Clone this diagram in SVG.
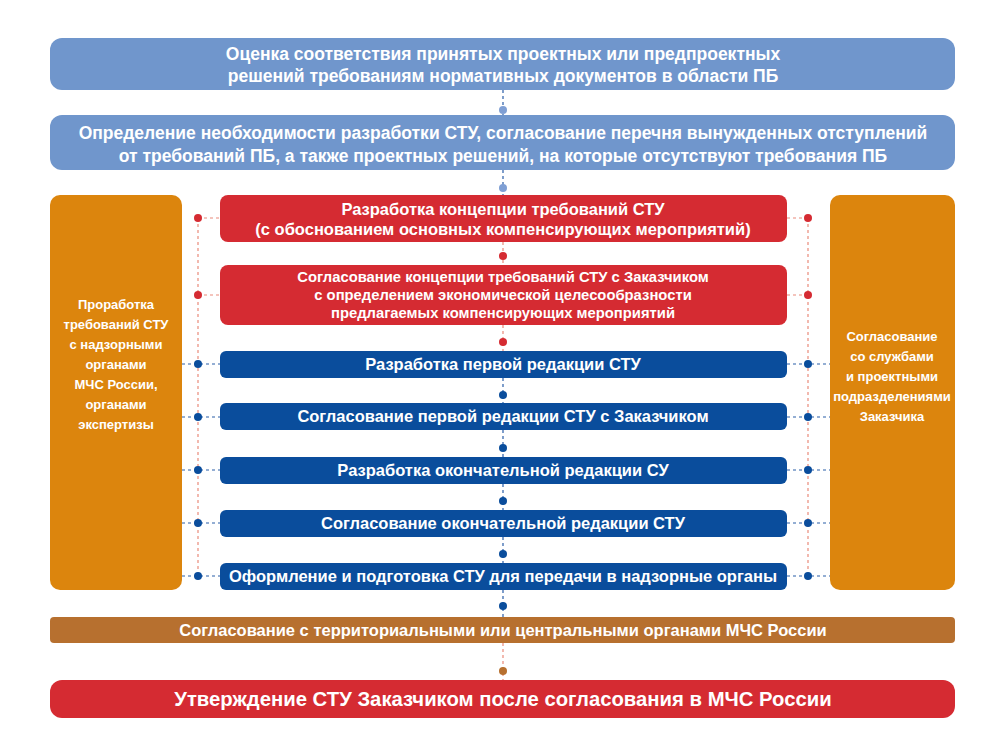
<svg xmlns="http://www.w3.org/2000/svg" width="1000" height="752" viewBox="0 0 1000 752">
<style>
text{font-family:"Liberation Sans",Arial,sans-serif;font-weight:bold;fill:#fff;text-anchor:middle}
.lb{fill:#7096cc}.rd{fill:#d52b32}.bl{fill:#0a4d9c}.or{fill:#dc850d}.br{fill:#b7702f}
.dl{stroke:#e98a7a;stroke-width:1.2;stroke-dasharray:3 3;fill:none}
.db{stroke:#2a5ea8;stroke-width:1.2;stroke-dasharray:3 3;fill:none}
</style>
<rect width="1000" height="752" fill="#fff"/>
<g id="connectors">
<path class="dl" d="M198 218V580M808 218V580"/>
<path class="dl" d="M198 218H220M198 295H220M787 218H808M787 295H808"/>
<path class="db" d="M182 364H220M182 417H220M182 470H220M182 523H220M182 576H220M787 364H830M787 417H830M787 470H830M787 523H830M787 576H830"/>
<path class="db" d="M503 90V115M503 170V195M503 378V403M503 430V457M503 484V510M503 537V563M503 590V617"/>
<path class="dl" d="M503 242V265M503 325V351M503 643V680"/>
<g fill="#d52b32"><circle cx="198" cy="218" r="4"/><circle cx="198" cy="295" r="4"/><circle cx="808" cy="218" r="4"/><circle cx="808" cy="295" r="4"/><circle cx="503" cy="256" r="4"/><circle cx="503" cy="342" r="4"/></g>
<g fill="#0a4d9c"><circle cx="198" cy="364" r="4"/><circle cx="198" cy="417" r="4"/><circle cx="198" cy="470" r="4"/><circle cx="198" cy="523" r="4"/><circle cx="198" cy="576" r="4"/><circle cx="808" cy="364" r="4"/><circle cx="808" cy="417" r="4"/><circle cx="808" cy="470" r="4"/><circle cx="808" cy="523" r="4"/><circle cx="808" cy="576" r="4"/><circle cx="503" cy="395" r="4"/><circle cx="503" cy="448" r="4"/><circle cx="503" cy="501" r="4"/><circle cx="503" cy="554" r="4"/><circle cx="503" cy="606" r="4"/></g>
<g fill="#7f9fd4"><circle cx="503" cy="110" r="4"/><circle cx="503" cy="188" r="4"/></g>
<circle cx="503" cy="671" r="4" fill="#b7702f"/>
</g>
<g id="n1"><rect class="lb" x="50" y="38" width="905" height="52" rx="12"/><text x="503" y="60" font-size="17.5">Оценка соответствия принятых проектных или предпроектных</text><text x="503" y="82" font-size="17.5">решений требованиям нормативных документов в области ПБ</text></g>
<g id="n2"><rect class="lb" x="50" y="115" width="905" height="55" rx="12"/><text x="503" y="139" font-size="17.5">Определение необходимости разработки СТУ, согласование перечня вынужденных отступлений</text><text x="503" y="162" font-size="17.5">от требований ПБ, а также проектных решений, на которые отсутствуют требования ПБ</text></g>
<g id="left"><rect class="or" x="50" y="195" width="132" height="395" rx="10"/><g font-size="13"><text x="116" y="309">Проработка</text><text x="116" y="329">требований СТУ</text><text x="116" y="349">с надзорными</text><text x="116" y="369">органами</text><text x="116" y="389">МЧС России,</text><text x="116" y="409">органами</text><text x="116" y="429">экспертизы</text></g></g>
<g id="right"><rect class="or" x="830" y="195" width="125" height="395" rx="10"/><g font-size="13"><text x="892" y="341">Согласование</text><text x="892" y="361">со службами</text><text x="892" y="381">и проектными</text><text x="892" y="401">подразделениями</text><text x="892" y="421">Заказчика</text></g></g>
<g id="r1"><rect class="rd" x="220" y="195" width="567" height="47" rx="8"/><text x="503" y="215" font-size="16.5">Разработка концепции требований СТУ</text><text x="503" y="235" font-size="16.5">(с обоснованием основных компенсирующих мероприятий)</text></g>
<g id="r2"><rect class="rd" x="220" y="265" width="567" height="60" rx="8"/><g font-size="14.8"><text x="503" y="282">Согласование концепции требований СТУ с Заказчиком</text><text x="503" y="300">с определением экономической целесообразности</text><text x="503" y="318">предлагаемых компенсирующих мероприятий</text></g></g>
<g id="b1"><rect class="bl" x="220" y="351" width="567" height="27" rx="6"/><text x="503" y="370" font-size="16.5">Разработка первой редакции СТУ</text></g>
<g id="b2"><rect class="bl" x="220" y="403" width="567" height="27" rx="6"/><text x="503" y="422" font-size="16.5">Согласование первой редакции СТУ с Заказчиком</text></g>
<g id="b3"><rect class="bl" x="220" y="457" width="567" height="27" rx="6"/><text x="503" y="476" font-size="16.5">Разработка окончательной редакции СУ</text></g>
<g id="b4"><rect class="bl" x="220" y="510" width="567" height="27" rx="6"/><text x="503" y="529" font-size="16.5">Согласование окончательной редакции СТУ</text></g>
<g id="b5"><rect class="bl" x="220" y="563" width="567" height="27" rx="6"/><text x="503" y="582" font-size="16.5">Оформление и подготовка СТУ для передачи в надзорные органы</text></g>
<g id="br"><rect class="br" x="50" y="617" width="905" height="26" rx="4"/><text x="503" y="636" font-size="16.5">Согласование с территориальными или центральными органами МЧС России</text></g>
<g id="fin"><rect class="rd" x="50" y="680" width="905" height="38" rx="12"/><text x="503" y="706" font-size="20.3">Утверждение СТУ Заказчиком после согласования в МЧС России</text></g>
</svg>
